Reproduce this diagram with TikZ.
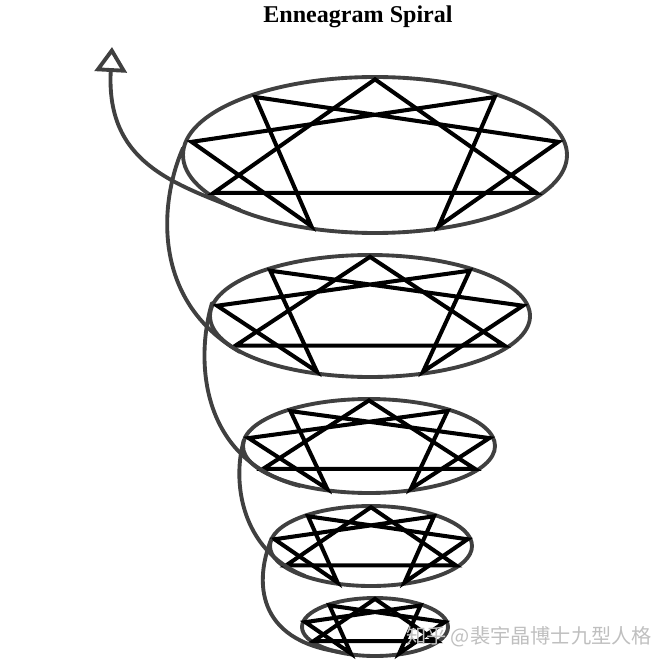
\documentclass[tikz,border=0pt]{standalone}
\usepackage{fontspec}
\newfontfamily\cjk{Noto Sans CJK SC}
\newfontfamily\titlefont{Liberation Serif}
\usetikzlibrary{arrows.meta}
\definecolor{rim}{HTML}{404040}
\tikzset{ring/.style={draw=rim,line width=2.2pt},
  star/.style={draw=black,line width=2.3pt,line join=miter},
  spiral/.style={draw=rim,line width=2.2pt,line cap=round}}

\begin{document}
\begin{tikzpicture}[x=0.02cm,y=-0.02cm]
\useasboundingbox (0,0) rectangle (665,665);
\node[font=\titlefont\fontsize{13.7}{15}\selectfont\bfseries] (title) at (358,17) {Enneagram Spiral};
% five enneagrams, one ellipse per turn
\foreach \n/\cx/\cy/\rx/\ry in {1/375/155/192/78,2/370/316/160/61,3/369/446/126/47,4/371/546/101/40,5/375/627/73/29}{
  \draw[ring] (\cx,\cy) ellipse [x radius=\rx,y radius=\ry];
  \foreach \k in {0,...,8} \coordinate (p\n\k) at ({\cx+0.97*\rx*sin(40*\k)},{\cy-0.97*\ry*cos(40*\k)});
  \draw[star] (p\n0)--(p\n3)--(p\n6)--cycle;
  \draw[star] (p\n1)--(p\n4)--(p\n2)--(p\n8)--(p\n5)--(p\n7)--cycle;
}
% spiral turns between the ellipses
\coordinate (a1) at (183,148); \coordinate (b2) at (240,352);
\coordinate (a2) at (212,303); \coordinate (b3) at (300,486);
\coordinate (a3) at (244,440); \coordinate (b4) at (305,576);
\coordinate (a4) at (271,540); \coordinate (b5) at (340,652);
\coordinate (b1) at (240,210); \coordinate (tip) at (112,47);
\draw[spiral] (a1) .. controls (160,200) and (150,300) .. (b2);
\draw[spiral] (a2) .. controls (195,360) and (200,460) .. (b3);
\draw[spiral] (a3) .. controls (232,480) and (240,550) .. (b4);
\draw[spiral] (a4) .. controls (255,580) and (255,640) .. (b5);
\draw[spiral,-{Triangle[open,length=0.5cm,width=0.64cm]}] (b1) .. controls (172,183) and (106,162) .. (tip);
\node[font=\cjk\fontsize{11.5}{12}\selectfont,text=gray!50] (mark) at (529,637) {知乎 @裴宇晶博士九型人格};
\end{tikzpicture}
\end{document}
